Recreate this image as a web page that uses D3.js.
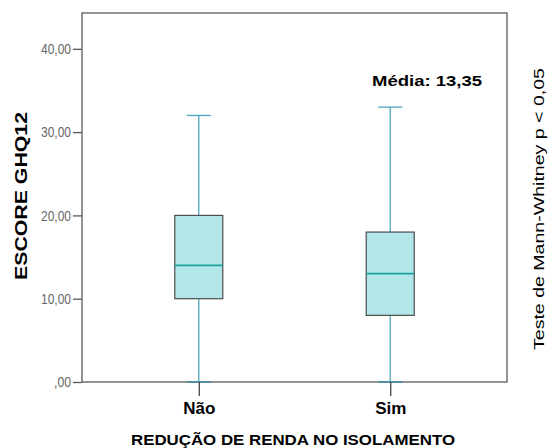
<!DOCTYPE html>
<html>
<head>
<meta charset="utf-8">
<script src="https://cdn.jsdelivr.net/npm/d3@7"></script>
<style>
  html, body { margin: 0; padding: 0; background: #fff; }
  svg { display: block; font-family: Arial, "Liberation Sans", sans-serif; }
</style>
</head>
<body>
<svg id="chart" width="549" height="448"></svg>
<script>
// Categories and five-number summaries of the GHQ-12 score
const categories = ["Não", "Sim"];
const minValues = [0, 0];
const q1Values = [10, 8];
const medianValues = [14, 13];
const q3Values = [20, 18];
const maxValues = [32, 33];
const yTicks = [0, 10, 20, 30, 40];
const meanLabel = "Média: 13,35";
const testLabel = "Teste de Mann-Whitney  p < 0,05";

const svg = d3.select("#chart");
const frame = { left: 82, right: 507, top: 13, bottom: 382 };

const x = d3.scalePoint()
  .domain(categories)
  .range([frame.left, frame.right])
  .padding(0.61);

const y = d3.scaleLinear()
  .domain([0, 44.3])
  .range([frame.bottom, frame.top]);

const fmt = v => (v === 0 ? ",00" : d3.format(".2f")(v).replace(".", ","));

// Plot frame
svg.append("rect")
  .attr("x", frame.left).attr("y", frame.top)
  .attr("width", frame.right - frame.left)
  .attr("height", frame.bottom - frame.top)
  .attr("fill", "none").attr("stroke", "#5a5a5a").attr("stroke-width", 1.3);

// Y axis (narrow, tall numerals)
const yAxis = svg.append("g")
  .attr("transform", `translate(${frame.left},0)`)
  .call(d3.axisLeft(y).tickValues(yTicks).tickFormat(fmt).tickSize(9).tickPadding(2));
yAxis.select(".domain").remove();
yAxis.selectAll(".tick line").attr("stroke", "#5a5a5a").attr("stroke-width", 1.3);
yAxis.selectAll(".tick text")
  .attr("fill", "#666").style("font-size", "15px")
  .style("font-family", "Arial, 'Liberation Sans', sans-serif")
  .attr("textLength", d => (d === 0 ? 17 : 30))
  .attr("lengthAdjust", "spacingAndGlyphs");

// Box plot marks
const boxW = 48, capW = 24;
const groups = svg.append("g").selectAll("g")
  .data(categories.map((c, i) => ({
    c, min: minValues[i], q1: q1Values[i], med: medianValues[i], q3: q3Values[i], max: maxValues[i]
  })))
  .join("g");

const whisker = "#4aa6c0";
groups.append("line")
  .attr("x1", d => x(d.c)).attr("x2", d => x(d.c))
  .attr("y1", d => y(d.max)).attr("y2", d => y(d.q3))
  .attr("stroke", whisker).attr("stroke-width", 1.3);
groups.append("line")
  .attr("x1", d => x(d.c)).attr("x2", d => x(d.c))
  .attr("y1", d => y(d.q1)).attr("y2", d => y(d.min))
  .attr("stroke", whisker).attr("stroke-width", 1.3);
groups.append("line")
  .attr("x1", d => x(d.c) - capW / 2).attr("x2", d => x(d.c) + capW / 2)
  .attr("y1", d => y(d.max)).attr("y2", d => y(d.max))
  .attr("stroke", whisker).attr("stroke-width", 1.3);
groups.append("line")
  .attr("x1", d => x(d.c) - capW / 2).attr("x2", d => x(d.c) + capW / 2)
  .attr("y1", d => y(d.min)).attr("y2", d => y(d.min))
  .attr("stroke", "#3f8fa6").attr("stroke-width", 1.6);
groups.append("rect")
  .attr("x", d => x(d.c) - boxW / 2).attr("width", boxW)
  .attr("y", d => y(d.q3)).attr("height", d => y(d.q1) - y(d.q3))
  .attr("fill", "#b3e6e8").attr("stroke", "#4d4d4d").attr("stroke-width", 1.2);
groups.append("line")
  .attr("x1", d => x(d.c) - boxW / 2).attr("x2", d => x(d.c) + boxW / 2)
  .attr("y1", d => y(d.med)).attr("y2", d => y(d.med))
  .attr("stroke", "#1d9f9f").attr("stroke-width", 1.8);

// X axis ticks and category labels
const xAxis = svg.append("g")
  .attr("transform", `translate(0,${frame.bottom})`)
  .call(d3.axisBottom(x).tickSize(14).tickPadding(6));
xAxis.select(".domain").remove();
xAxis.selectAll(".tick line").attr("stroke", "#444").attr("stroke-width", 1.3);
xAxis.selectAll(".tick text")
  .attr("fill", "#000").style("font-size", "17px").style("font-weight", "bold")
  .style("font-family", "Arial, 'Liberation Sans', sans-serif");

// Axis titles and annotations
svg.append("text")
  .attr("transform", `translate(27,196) rotate(-90)`)
  .attr("text-anchor", "middle")
  .attr("textLength", 168).attr("lengthAdjust", "spacingAndGlyphs")
  .style("font-size", "17px").style("font-weight", "bold")
  .text("ESCORE GHQ12");

svg.append("text")
  .attr("x", 293).attr("y", 445)
  .attr("text-anchor", "middle")
  .attr("textLength", 324).attr("lengthAdjust", "spacingAndGlyphs")
  .style("font-size", "15px").style("font-weight", "bold")
  .text("REDUÇÃO DE RENDA NO ISOLAMENTO");

svg.append("text")
  .attr("x", 372).attr("y", 86)
  .attr("textLength", 110).attr("lengthAdjust", "spacingAndGlyphs")
  .style("font-size", "14px").style("font-weight", "bold")
  .text(meanLabel);

svg.append("text")
  .attr("transform", `translate(544,209) rotate(-90)`)
  .attr("text-anchor", "middle")
  .attr("textLength", 282).attr("lengthAdjust", "spacingAndGlyphs")
  .style("font-size", "15px")
  .text(testLabel);
</script>
</body>
</html>
